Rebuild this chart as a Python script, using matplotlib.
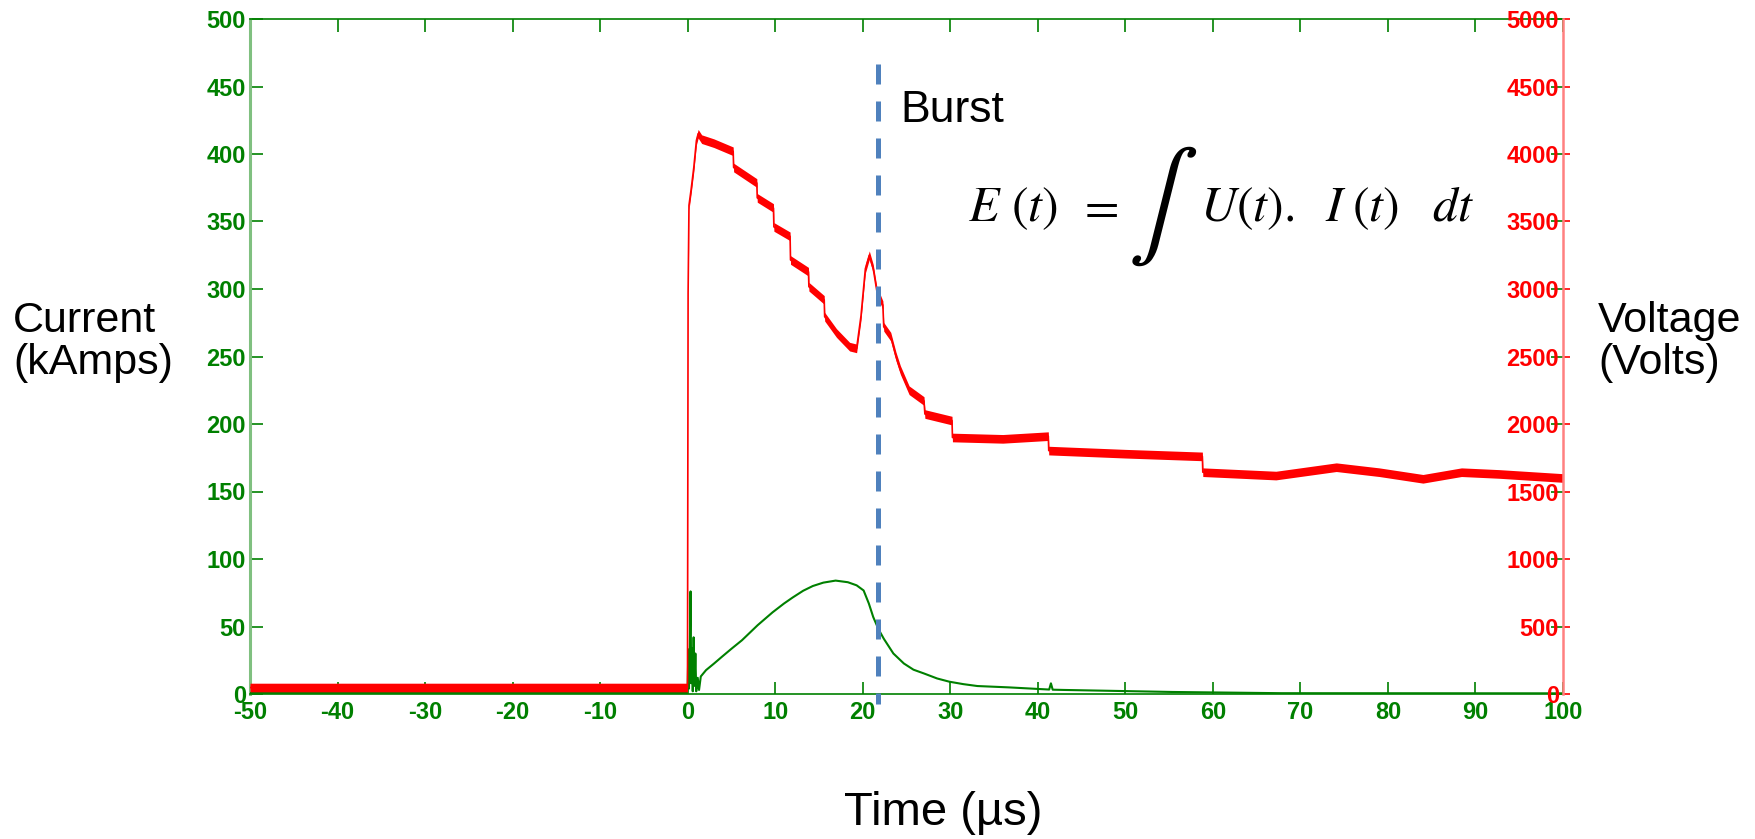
import matplotlib
matplotlib.use("Agg")
import matplotlib.pyplot as plt
import numpy as np

plt.rcParams['font.family'] = ['Liberation Sans', 'DejaVu Sans']
plt.rcParams['mathtext.fontset'] = 'stix'
plt.rcParams['axes.unicode_minus'] = False

# ---------------- data ----------------
volt_t = [-50, -0.02, 0.0, 0.05, 0.15, 0.4, 0.7, 1.0, 1.2, 1.6, 3.0, 5.2, 5.25, 7.9, 7.95,
          9.8, 9.85, 11.7, 11.75, 13.8, 13.85, 15.6, 15.65, 17.0, 18.5, 19.3, 19.8, 20.3,
          20.75, 21.2, 21.6, 22.3, 22.4, 23.2, 23.8, 24.3, 25.3, 27.0, 27.1, 30.2, 30.25,
          36.0, 41.2, 41.25, 50.0, 58.8, 58.85, 67.2, 74.1, 79.0, 84.0, 88.4, 92.7, 100.0]
volt_v = [48, 48, 900, 2970, 3620, 3740, 3900, 4100, 4150, 4110, 4080, 4020, 3900, 3785, 3675,
          3600, 3460, 3390, 3215, 3128, 3017, 2919, 2795, 2674, 2573, 2560, 2800, 3150,
          3250, 3150, 2990, 2880, 2720, 2647, 2500, 2400, 2250, 2170, 2074, 2025, 1900,
          1890, 1910, 1803, 1780, 1760, 1643, 1618, 1680, 1643, 1594, 1643, 1630, 1600]

curr_t = [-50, -0.1, 0.0, 0.08, 0.15, 0.25, 0.33, 0.4, 0.5, 0.58, 0.68, 0.78, 0.88, 0.98,
          1.15, 1.3, 1.5, 2.1, 3.0, 3.9, 5.0, 6.2, 8.0, 9.7, 11.0, 12.0, 13.2, 14.3, 15.5,
          16.9, 18.3, 19.3, 20.1, 20.7, 21.2, 21.8, 22.4, 23.5, 24.7, 25.8, 27.0, 28.5,
          29.9, 31.5, 33.1, 36.7, 41.3, 41.5, 41.7, 43.0, 55.4, 67.8, 100.0]
curr_i = [0.8, 0.8, 6, 33, 4, 35, 76, 8, 34, 2, 42, 6, 30, 2,
          12, 3, 13, 17.7, 22.5, 27.5, 33.5, 39.8, 51, 60.5, 67, 71.5, 76.5, 80, 82.5,
          84, 82.8, 80.5, 76.7, 67, 57, 48, 41, 30, 22.6, 18, 15.2, 11.5,
          9.1, 7.3, 5.9, 4.9, 3.3, 7.9, 3.2, 3.0, 1.5, 0.6, 0.5]

burst_t = 21.8
x_ticks = list(range(-50, 101, 10))
i_ticks = list(range(0, 501, 50))
v_ticks = list(range(0, 5001, 500))

GREEN = '#008000'
RED = '#ff0000'

fig = plt.figure(figsize=(17.55, 8.39), dpi=100)
ax = fig.add_axes([250/1755, 1-694/839, (1563-250)/1755, (694-19)/839])
ax2 = ax.twinx()

# current
ax.plot(curr_t, curr_i, color=GREEN, lw=1.5, zorder=3)
ax.set_xlim(-50, 100)
ax.set_ylim(0, 500)
ax.set_xticks(x_ticks)
ax.set_yticks(i_ticks)
ax.tick_params(axis='both', direction='in', length=9, width=1.2, color=GREEN,
               labelcolor=GREEN, labelsize=17)
ax.tick_params(axis='y', left=True, right=True, pad=3)
ax.tick_params(axis='x', bottom=True, top=True, pad=5)
for lbl in ax.get_xticklabels() + ax.get_yticklabels():
    lbl.set_fontweight('bold')
ax.spines['left'].set_color('#80c080')
ax.spines['left'].set_linewidth(2.2)
ax.spines['top'].set_color(GREEN)
ax.spines['bottom'].set_color(GREEN)
ax.spines['top'].set_linewidth(1.2)
ax.spines['bottom'].set_linewidth(1.2)
ax.spines['right'].set_visible(False)

# voltage (noisy band drawn as a thin fill around the trace)
vt = np.array(volt_t)
vv = np.array(volt_v)
band = 32
ax2.fill_between(vt, vv - band, vv + band, color=RED, lw=0, zorder=2)
ax2.plot(vt, vv, color=RED, lw=1.2, zorder=2)
ax2.set_ylim(0, 5000)
ax2.set_yticks(v_ticks)
ax2.tick_params(axis='y', direction='out', length=5, width=1.2, color=RED,
                labelcolor=RED, labelsize=17, pad=-8)
for lbl in ax2.get_yticklabels():
    lbl.set_fontweight('bold')
    lbl.set_horizontalalignment('right')
for s in ['left', 'top', 'bottom']:
    ax2.spines[s].set_visible(False)
ax2.spines['right'].set_color('#ff8080')
ax2.spines['right'].set_linewidth(1.8)

# burst line
v_top = 5000 * (694 - 64) / 675
v_bot = 5000 * (694 - 704) / 675
ax2.plot([burst_t, burst_t], [v_top, v_bot], color='#4f81bd', lw=3.6,
         dashes=(4.0, 3.4), clip_on=False, zorder=5, dash_capstyle='butt')

ax2.text(24.3, 4237, 'Burst', fontsize=32, color='black', ha='left', va='baseline')

# formula E(t) = ∫ U(t).I(t) dt, pieces placed as in the picture
fs = 36
base_v = 3504
pieces = [(32.0, r'$E$'), (36.9, r'$(t)$'), (44.5, r'$=$'), (58.5, r'$U(t).$'),
          (72.8, r'$I$'), (75.9, r'$(t)$'), (85.0, r'$dt$')]
for px, s in pieces:
    ax2.text(px, base_v, s, fontsize=fs, ha='left', va='baseline')
ax2.text(54.3, 3615, r'$\int$', fontsize=fs * 2.1, ha='center', va='center')

fig.text(13/1755, 1-342/839, 'Current\n(kAmps)', fontsize=31, ha='left', va='center',
         linespacing=1.05)
fig.text(1598/1755, 1-342/839, 'Voltage\n(Volts)', fontsize=31, ha='left', va='center',
         linespacing=1.05)
fig.text(943/1755, 1-813/839, 'Time (µs)', fontsize=34, ha='center', va='center')

fig.savefig('out.png', dpi=100)
